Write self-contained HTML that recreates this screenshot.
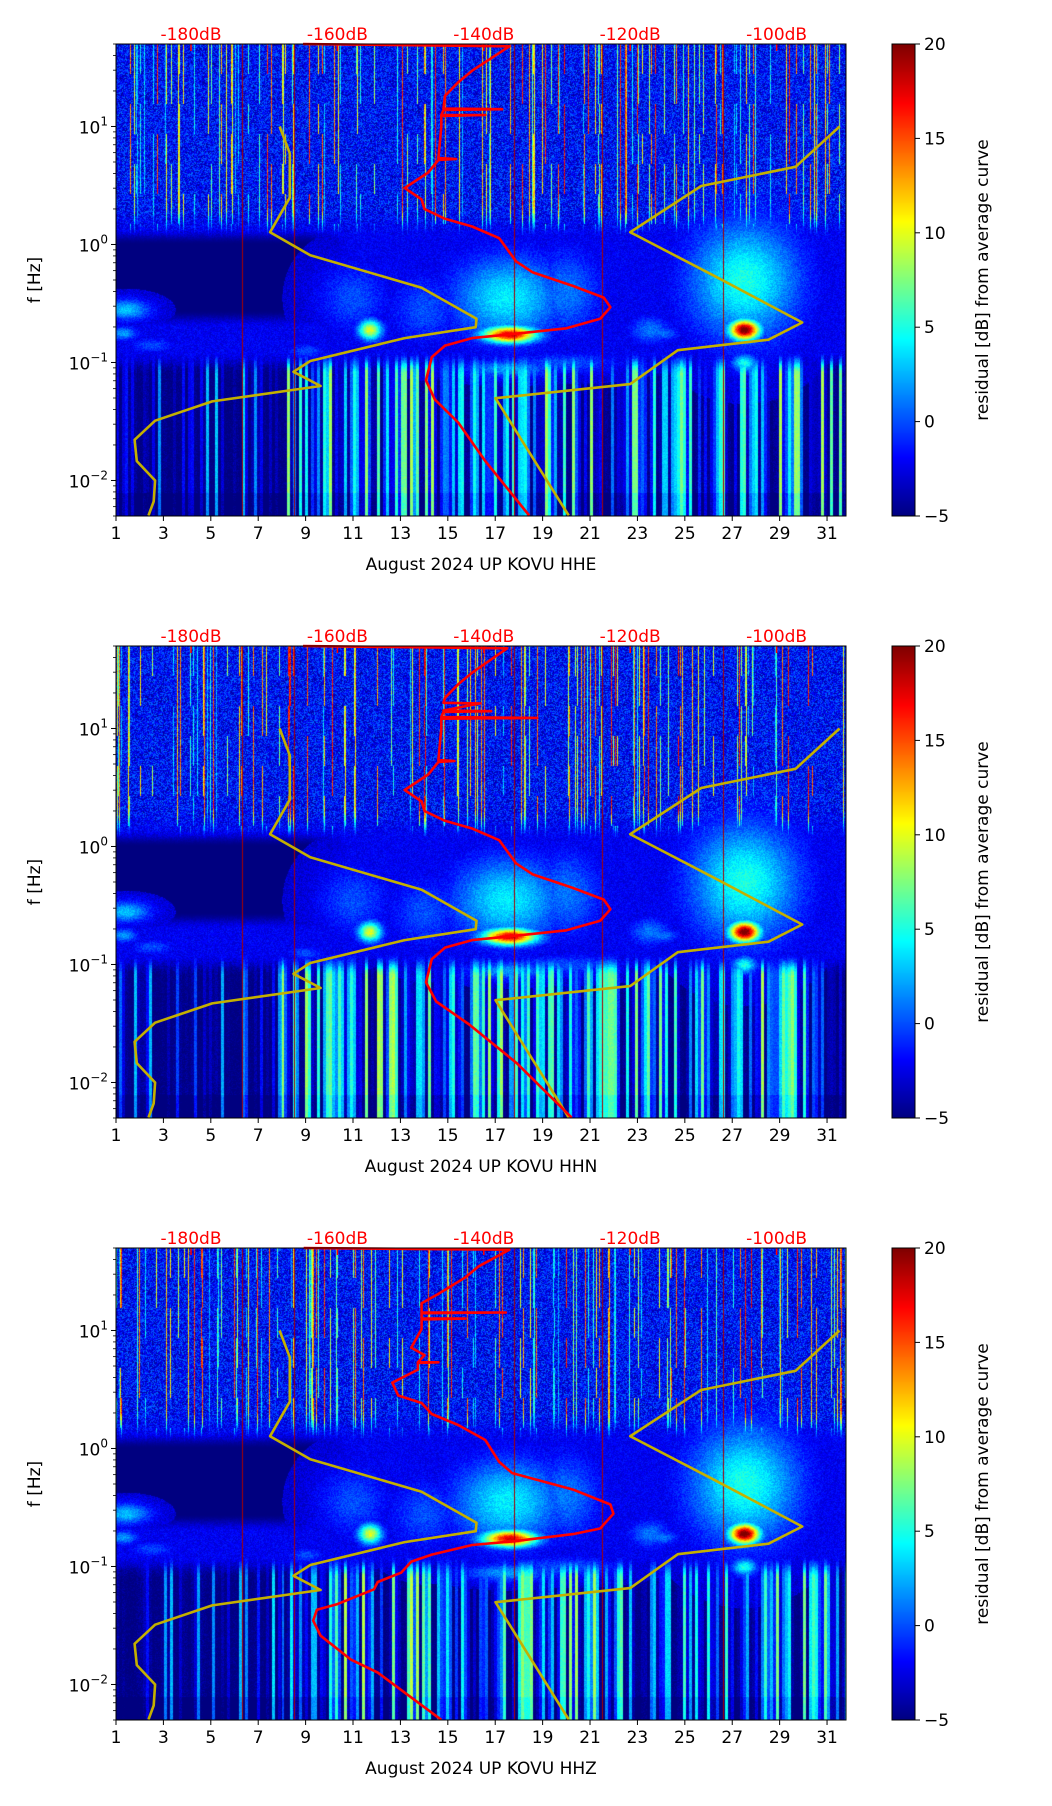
<!DOCTYPE html>
<html><head><meta charset="utf-8"><style>
html,body{margin:0;padding:0;background:#fff}
#wrap{position:relative;width:1052px;height:1806px;overflow:hidden}
canvas,svg{position:absolute;left:0;top:0}
text{font-family:"DejaVu Sans","Liberation Sans",sans-serif}
</style></head><body>
<div id="wrap">
<canvas id="cv" width="1052" height="1806"></canvas>
<svg id="sv" width="1052" height="1806" xmlns="http://www.w3.org/2000/svg"></svg>
</div>
<script>
// ---- data ----
const dayTicks = [1,3,5,7,9,11,13,15,17,19,21,23,25,27,29,31];
const freqTickExp = [-2,-1,0,1];
const dbTickLabels = [-180,-160,-140,-120,-100];
const cbarTicks = [-5,0,5,10,15,20];
const channels = ["HHE","HHN","HHZ"];
const lowModelFreq = [10,5.93,2.49,1.27,0.81,0.43,0.235,0.199,0.161,0.103,0.0834,0.0632,0.0468,0.0321,0.0221,0.0146,0.01,0.00665,0.00505];
const lowModelDb = [-167.9,-166.5,-166.5,-169.2,-163.7,-148.5,-141.0,-141.1,-150.8,-163.7,-166.0,-162.3,-177.1,-184.9,-187.7,-187.4,-184.9,-185.1,-185.8];
const highModelFreq = [10,4.55,3.13,1.27,0.537,0.218,0.156,0.127,0.0656,0.0498,0.00505];
const highModelDb = [-91.4,-97.4,-110.3,-120.0,-108.4,-96.5,-101.1,-113.5,-120.0,-138.4,-128.4];
const hheFreq = [50,47.8,29.7,23.7,18.2,14.2,14.0,13.8,12.5,12.5,12.3,10,5.4,5.3,5.2,4.07,3.01,2.41,2.0,1.65,1.42,1.13,0.72,0.58,0.445,0.355,0.294,0.235,0.195,0.174,0.161,0.139,0.111,0.0706,0.0486,0.031,0.0146,0.00505];
const hheDb = [-164.7,-136.5,-141.6,-143.5,-145.3,-145.5,-137.5,-145.5,-145.8,-139.8,-145.8,-145.8,-146.2,-143.8,-146.2,-147.6,-150.8,-148.5,-148.1,-145.3,-141.6,-137.9,-135.6,-133.3,-127.8,-123.6,-122.7,-124.1,-128.7,-136.1,-141.6,-145.3,-147.1,-147.9,-146.7,-143.5,-139.8,-133.8];
const hhnFreq = [50,47.8,29.7,23.7,18.2,16.5,16.3,14.2,14.0,13.8,12.5,12.3,12.1,10,5.4,5.3,5.2,4.07,3.01,2.41,2.0,1.65,1.42,1.13,0.72,0.58,0.445,0.355,0.294,0.235,0.195,0.174,0.161,0.139,0.111,0.0706,0.0486,0.031,0.0146,0.00505];
const hhnDb = [-164.7,-136.8,-141.6,-143.5,-145.3,-145.5,-140.5,-145.5,-139.0,-145.5,-145.8,-132.7,-145.8,-145.8,-146.2,-144.0,-146.2,-147.6,-150.8,-148.5,-148.1,-145.3,-141.6,-137.9,-135.6,-133.3,-127.8,-123.6,-122.7,-124.1,-128.7,-136.1,-141.6,-145.3,-147.1,-147.9,-146.5,-142.0,-135.5,-128.0];
const hhzFreq = [50,48.4,35,28.2,20.4,17,14.2,14.2,14.0,12.6,12.6,12.4,10.3,7.16,6.19,5.37,5.37,5.3,4.66,3.61,2.81,2.43,1.96,1.58,1.18,0.769,0.619,0.448,0.335,0.280,0.210,0.188,0.163,0.152,0.126,0.110,0.0885,0.0738,0.064,0.048,0.043,0.0347,0.0259,0.0163,0.0126,0.00502];
const hhzDb = [-164.6,-136.5,-140.7,-142.5,-146.2,-148.5,-148.5,-137.0,-148.5,-148.5,-142.5,-148.5,-148.5,-149.9,-148.1,-149.0,-146.2,-149.0,-149.0,-152.5,-151.7,-148.5,-147.1,-143.5,-139.8,-137.9,-136.1,-127.8,-122.7,-122.3,-124.1,-127.8,-136.1,-141.6,-147.1,-149.9,-151.3,-154.5,-155.0,-160.0,-162.8,-163.3,-162.3,-158.2,-154.5,-145.8];
const redFreqs = [hheFreq, hhnFreq, hhzFreq];
const redDbs = [hheDb, hhnDb, hhzDb];

// ---- geometry / axis functions ----
const L = 116, R = 846, H = 472, TOPS = [44, 646, 1248];
const DAY0 = 1, DAY1 = 31.8, LF0 = Math.log10(0.005), LF1 = Math.log10(50);
const CBX = 892, CBW = 23;
function xOf(day){ return L + (day - DAY0) / (DAY1 - DAY0) * (R - L); }
function yOf(f, top){ return top + (LF1 - Math.log10(f)) / (LF1 - LF0) * H; }
function xDb(db){ return 191 + (db + 180) * 7.32; }
function cbY(v, top){ return top + (20 - v) / 25 * H; }

function jet(t){
  t = Math.max(0, Math.min(1, t));
  const c = x => Math.max(0, Math.min(1, x));
  return [c(1.5 - Math.abs(4*t - 3)), c(1.5 - Math.abs(4*t - 2)), c(1.5 - Math.abs(4*t - 1))];
}
function hs(n){ const s = Math.sin(n * 12.9898 + 78.233) * 43758.5453; return s - Math.floor(s); }
function sm(a, b, x){ const t = Math.max(0, Math.min(1, (x - a) / (b - a))); return t * t * (3 - 2 * t); }

// ---- spectrogram texture ----
const blobs = [
 [1.4,-0.55,0.7,0.06,6],[1.3,-0.75,0.4,0.04,5],[11.7,-0.72,0.35,0.06,13],[17.6,-0.76,0.8,0.05,21],
 [27.5,-0.72,0.45,0.06,24],[17.5,-0.45,1.6,0.25,7],[27.5,-0.3,1.6,0.35,8],[23.5,-0.72,0.6,0.08,4],
 [14,-0.55,1.0,0.2,3],[11,-0.45,1.0,0.2,3],[20,-0.4,1.0,0.25,4],[17.5,-1.05,1.2,0.05,5],
 [27.5,-1.0,0.35,0.05,8],[20,-1.0,1.5,0.06,3],[9,-0.9,0.5,0.04,3],[2.5,-0.85,0.6,0.04,3],[24,-0.75,0.5,0.04,4]
];
const darkLines = [6.3, 8.5, 17.8, 21.5, 26.6];
const cv = document.getElementById('cv');
const ctx = cv.getContext('2d');
const W = R - L;
const img = ctx.createImageData(W, H);
TOPS.forEach((top, pi) => {
  const d = img.data;
  for (let x = 0; x < W; x++){
    const day = DAY0 + x / W * (DAY1 - DAY0);
    const seed = x + pi * 977;
    const streak = hs(seed) > 0.84 ? 3 + 15 * hs(seed + 1000) : -99;
    const g = Math.floor(x / 3) + pi * 331;
    const lowCol = day > 8 ? -5 + 14 * Math.pow(hs(g + 5000), 1.8) : -5 + 9 * Math.pow(hs(g + 5000), 4);
    const isDark = darkLines.some(dl => Math.abs(xOf(dl) - L - x) < 0.6);
    for (let y = 0; y < H; y++){
      const lf = LF1 - y / H * (LF1 - LF0);
      const n = hs(x * 7.1 + y * 13.7 + pi * 51);
      let up = -4.5 + 5.5 * n;
      if (streak > -99 && hs(seed + Math.floor(y / 30) * 3) > 0.3) up = Math.max(up, streak - 3 + 4 * n);
      let mid = -3.2 + 2 * n;
      const darkW = sm(9, 11, day);
      const darkBand = sm(-0.7, -0.55, lf) * (1 - sm(0.0, 0.15, lf));
      mid = mid * (1 - (1 - darkW) * darkBand) + (-5) * (1 - darkW) * darkBand;
      let low = lowCol + 1.5 * (n - 0.5);
      if (lf < -2.1) low -= 1;
      const wu = sm(0.05, 0.35, lf), wl = 1 - sm(-1.1, -0.9, lf);
      let v = up * wu + low * wl + mid * Math.max(0, 1 - wu - wl);
      for (const b of blobs){
        const e = ((day - b[0]) / b[2]) ** 2 + ((lf - b[1]) / b[3]) ** 2;
        if (e < 9) v = Math.max(v, -4 + b[4] * Math.exp(-e / 2) + n * 2);
      }
      if (isDark) v = 19;
      const c = jet((v + 5) / 25);
      const i = (y * W + x) * 4;
      d[i] = c[0] * 255; d[i+1] = c[1] * 255; d[i+2] = c[2] * 255; d[i+3] = 255;
    }
  }
  ctx.putImageData(img, L, top);
  for (let y = 0; y < H; y++){
    const c = jet(1 - y / H);
    ctx.fillStyle = `rgb(${c[0]*255|0},${c[1]*255|0},${c[2]*255|0})`;
    ctx.fillRect(CBX, top + y, CBW, 1);
  }
});

// ---- overlay ----
const NS = 'http://www.w3.org/2000/svg';
const sv = document.getElementById('sv');
function mk(tag, attrs, parent){
  const e = document.createElementNS(NS, tag);
  for (const k in attrs) e.setAttribute(k, attrs[k]);
  (parent || sv).appendChild(e);
  return e;
}
function pathFrom(fs, dbs, top){
  return fs.map((f, i) => (i ? 'L' : 'M') + xDb(dbs[i]).toFixed(1) + ',' + yOf(Math.min(50, Math.max(0.005, f)), top).toFixed(1)).join('');
}

TOPS.forEach((top, pi) => {
  const g = mk('g', {});
  
  
  const clipId = 'clip' + pi;
  const cp = mk('clipPath', {id: clipId}, g);
  mk('rect', {x: L, y: top - 2, width: W, height: H + 2}, cp);
  const lines = mk('g', {'clip-path': `url(#${clipId})`}, g);
  const lo = mk('path', {d: pathFrom(lowModelFreq, lowModelDb, top), fill: 'none', stroke: '#c4b000', 'stroke-width': 2.6, 'stroke-linejoin': 'round'}, lines);
  
  
  const hi = mk('path', {d: pathFrom(highModelFreq, highModelDb, top), fill: 'none', stroke: '#c4b000', 'stroke-width': 2.6, 'stroke-linejoin': 'round'}, lines);
  
  
  const rd = mk('path', {d: pathFrom(redFreqs[pi], redDbs[pi], top), fill: 'none', stroke: '#ff0000', 'stroke-width': 2.6, 'stroke-linejoin': 'round'}, lines);
  
  
  dbTickLabels.forEach(db => {
    const x = xDb(db);
    mk('line', {x1: x, y1: top, x2: x, y2: top + 7, stroke: '#ff0000', 'stroke-width': 1.5}, g);
    const t = mk('text', {x: x, y: top - 4, 'text-anchor': 'middle', 'font-size': 17, fill: '#ff0000'}, g);
    t.textContent = db + 'dB';
    
    
  });
  mk('rect', {x: L, y: top, width: W, height: H, fill: 'none', stroke: '#000', 'stroke-width': 1}, g);
  dayTicks.forEach(dv => {
    const x = xOf(dv);
    mk('line', {x1: x, y1: top + H, x2: x, y2: top + H + 5, stroke: '#000', 'stroke-width': 1}, g);
    const t = mk('text', {x: x, y: top + H + 23, 'text-anchor': 'middle', 'font-size': 17, fill: '#000'}, g);
    t.textContent = dv;
    
    
  });
  const xt = mk('text', {x: (L + R) / 2, y: top + H + 54, 'text-anchor': 'middle', 'font-size': 17, fill: '#000'}, g);
  xt.textContent = 'August 2024 UP KOVU  ' + channels[pi];
  
  
  freqTickExp.forEach(ex => {
    const y = yOf(Math.pow(10, ex), top);
    mk('line', {x1: L - 5, y1: y, x2: L, y2: y, stroke: '#000', 'stroke-width': 1}, g);
    const t = mk('text', {x: L - 8, y: y + 7, 'text-anchor': 'end', 'font-size': 17, fill: '#000'}, g);
    
    
    const a = mk('tspan', {}, t);
    a.textContent = '10';
    const s = mk('tspan', {dy: -8, 'font-size': 12}, t);
    s.textContent = ex < 0 ? '\u2212' + (-ex) : String(ex);
    for (let m = 2; m <= 9; m++){
      const f = m * Math.pow(10, ex);
      if (f <= 50) { const ym = yOf(f, top); mk('line', {x1: L - 3, y1: ym, x2: L, y2: ym, stroke: '#000', 'stroke-width': 0.8}, g); }
    }
  });
  [5,6,7,8,9].forEach(m => { const ym = yOf(m * 0.001, top); mk('line', {x1: L - 3, y1: ym, x2: L, y2: ym, stroke: '#000', 'stroke-width': 0.8}, g); });
  const yt = mk('text', {x: 0, y: 0, 'text-anchor': 'middle', 'font-size': 17, fill: '#000', transform: `translate(40,${top + 236}) rotate(-90)`}, g);
  yt.textContent = 'f [Hz]';
  
  
  const cb = mk('rect', {x: CBX, y: top, width: CBW, height: H, fill: 'none', stroke: '#000', 'stroke-width': 1}, g);
  
  
  cbarTicks.forEach(v => {
    const y = cbY(v, top);
    mk('line', {x1: CBX + CBW, y1: y, x2: CBX + CBW + 5, y2: y, stroke: '#000', 'stroke-width': 1}, g);
    const t = mk('text', {x: CBX + CBW + 9, y: y + 6, 'font-size': 17, fill: '#000'}, g);
    t.textContent = v < 0 ? '\u2212' + (-v) : String(v);
    
    
  });
  const ct = mk('text', {x: 0, y: 0, 'text-anchor': 'middle', 'font-size': 17, fill: '#000', transform: `translate(988,${top + 236}) rotate(-90)`}, g);
  ct.textContent = 'residual [dB] from average curve';
  
  
});
</script>
</body></html>
